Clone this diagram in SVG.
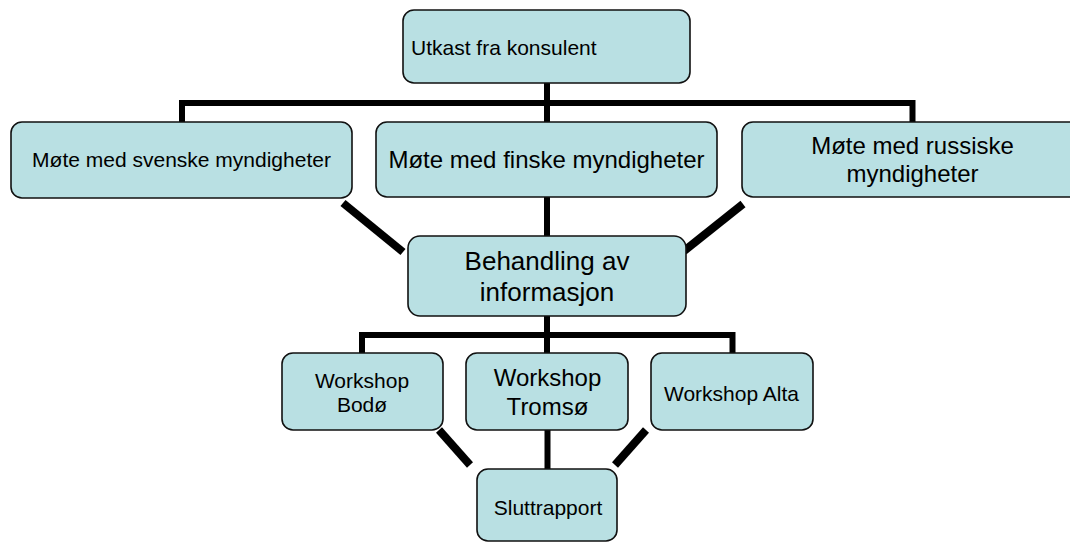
<svg xmlns="http://www.w3.org/2000/svg" width="1070" height="543" viewBox="0 0 1070 543">
<style>
.box{fill:#b9e0e3;stroke:#111;stroke-width:1.6}
.t{font-family:"Liberation Sans",Arial,sans-serif;fill:#000;text-anchor:middle}
.c{fill:none;stroke:#000;stroke-width:6;stroke-linejoin:miter}
.d{fill:none;stroke:#000;stroke-width:8;stroke-linecap:butt}
</style>
<rect width="1070" height="543" fill="#fff"/>
<g id="connectors">
<path class="c" d="M182,122 V103 H912.5 V122"/>
<path class="c" d="M547,83 V122"/>
<path class="c" d="M547,197 V236"/>
<path class="d" d="M343,203 L403,252"/>
<path class="d" d="M743,204 L684,251"/>
<path class="c" d="M362,353 V335 H732.5 V353"/>
<path class="c" d="M547,316 V353"/>
<path class="c" d="M547.5,430 V469"/>
<path class="d" d="M439,430 L470,465"/>
<path class="d" d="M646,430 L615,465"/>
</g>
<g id="utkast">
<rect class="box" x="403" y="10" width="287" height="73" rx="11"/>
<text class="t" x="411" y="55" font-size="21" text-anchor="start" style="text-anchor:start">Utkast fra konsulent</text>
</g>
<g id="svenske">
<rect class="box" x="11" y="122" width="341" height="76" rx="11"/>
<text class="t" x="181.5" y="167" font-size="21">Møte med svenske myndigheter</text>
</g>
<g id="finske">
<rect class="box" x="376" y="122" width="341" height="75" rx="11"/>
<text class="t" x="546.5" y="168" font-size="24">Møte med finske myndigheter</text>
</g>
<g id="russiske">
<rect class="box" x="742" y="122" width="341" height="75" rx="11"/>
<text class="t" x="912.5" y="154" font-size="24">Møte med russiske</text>
<text class="t" x="912.5" y="182" font-size="24">myndigheter</text>
</g>
<g id="behandling">
<rect class="box" x="408" y="236" width="278" height="80" rx="12"/>
<text class="t" x="547" y="270" font-size="26">Behandling av</text>
<text class="t" x="547" y="301" font-size="26">informasjon</text>
</g>
<g id="bodo">
<rect class="box" x="282" y="353" width="161" height="77" rx="11"/>
<text class="t" x="362" y="388" font-size="21">Workshop</text>
<text class="t" x="362" y="412" font-size="21">Bodø</text>
</g>
<g id="tromso">
<rect class="box" x="466" y="353" width="162" height="77" rx="11"/>
<text class="t" x="547.5" y="386" font-size="24">Workshop</text>
<text class="t" x="547.5" y="415" font-size="24">Tromsø</text>
</g>
<g id="alta">
<rect class="box" x="651" y="353" width="162" height="77" rx="11"/>
<text class="t" x="731.5" y="401" font-size="21">Workshop Alta</text>
</g>
<g id="sluttrapport">
<rect class="box" x="477" y="469" width="140" height="72" rx="11"/>
<text class="t" x="548" y="515" font-size="21">Sluttrapport</text>
</g>
</svg>
